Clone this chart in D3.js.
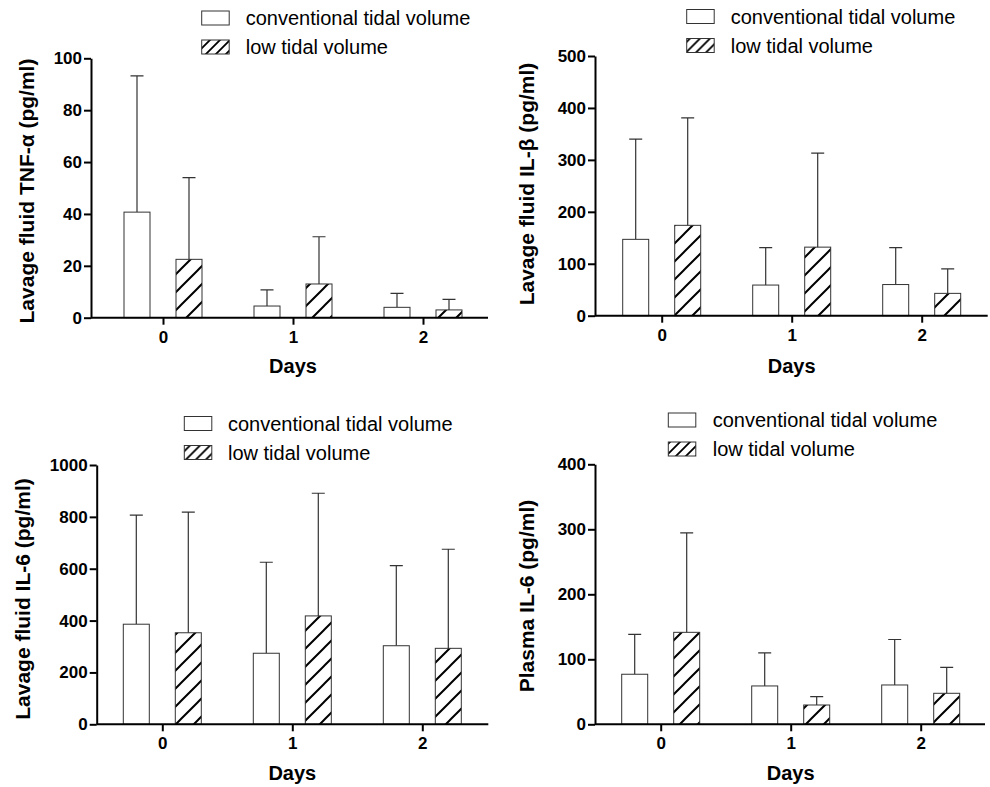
<!DOCTYPE html>
<meta charset="utf-8">
<style>

body {
  margin: 0;
  background: #fff;
}

svg {
  display: block;
  font-family: Arial, "Liberation Sans", sans-serif;
}

.axis path,
.axis line {
  stroke: #000;
  stroke-width: 2px;
}

.axis text {
  font-size: 17px;
  font-weight: bold;
  fill: #000;
}

.bar {
  stroke: #333;
  stroke-width: 1px;
}

.err {
  stroke: #333;
  stroke-width: 1.2px;
  fill: none;
}

.title {
  font-size: 20px;
  font-weight: bold;
}

.ytitle {
  font-size: 21px;
  font-weight: bold;
}

.legend text {
  font-size: 20px;
}

</style>
<body>
<script src="https://cdn.jsdelivr.net/npm/d3@7"></script>
<script>

var width = 990,
    height = 787;

var days = ["0", "1", "2"],
    series = ["conventional tidal volume", "low tidal volume"];

// means and SD (upper error bar only)
var tnfConv = [40.7, 4.5, 4.0],
    tnfConvSd = [52.5, 6.2, 5.4],
    tnfLow = [22.5, 13.0, 3.0],
    tnfLowSd = [31.5, 18.2, 4.1];

var il1bConv = [147, 59, 60],
    il1bConvSd = [193, 72, 71],
    il1bLow = [174, 132, 43],
    il1bLowSd = [207, 181, 47];

var il6Conv = [386, 274, 303],
    il6ConvSd = [421, 351, 309],
    il6Low = [353, 418, 293],
    il6LowSd = [465, 473, 382];

var plasmaConv = [77, 59, 60.5],
    plasmaConvSd = [61.5, 51, 70],
    plasmaLow = [141.5, 29.7, 47.7],
    plasmaLowSd = [153, 12.8, 40];

var yTitles = [
  "Lavage fluid TNF-\u03b1 (pg/ml)",
  "Lavage fluid IL-\u03b2 (pg/ml)",
  "Lavage fluid IL-6 (pg/ml)",
  "Plasma IL-6 (pg/ml)"
];

var yMax = [100, 500, 1000, 400],
    yStep = [20, 100, 200, 100];

var panels = [
  {conv: tnfConv, convSd: tnfConvSd, low: tnfLow, lowSd: tnfLowSd,
   left: 91, top: 58.3, bottom: 317.7, right: 488, cat0: 163, titleX: 34, titleY: 191, daysY: 373,
   legX: 201.7, legY: 11, legTextX: 245.7},
  {conv: il1bConv, convSd: il1bConvSd, low: il1bLow, lowSd: il1bLowSd,
   left: 595, top: 56, bottom: 315.7, right: 987.7, cat0: 661.7, titleX: 534, titleY: 184, daysY: 373,
   legX: 686.7, legY: 9.5, legTextX: 730.7},
  {conv: il6Conv, convSd: il6ConvSd, low: il6Low, lowSd: il6LowSd,
   left: 96.7, top: 465, bottom: 724.3, right: 488.3, cat0: 162.3, titleX: 30, titleY: 599, daysY: 780,
   legX: 184.3, legY: 416.5, legTextX: 228},
  {conv: plasmaConv, convSd: plasmaConvSd, low: plasmaLow, lowSd: plasmaLowSd,
   left: 595, top: 464.3, bottom: 724.3, right: 985, cat0: 660.7, titleX: 534, titleY: 596, daysY: 780,
   legX: 668.3, legY: 413, legTextX: 712.7}
];

var svg = d3.select("body").append("svg")
    .attr("width", width)
    .attr("height", height);

var defs = svg.append("defs");

function hatch(id, s, w) {
  defs.append("pattern")
      .attr("id", id)
      .attr("patternUnits", "userSpaceOnUse")
      .attr("width", s)
      .attr("height", s)
    .append("path")
      .attr("d", "M0," + s + "L" + s + ",0M" + (-s / 4) + "," + (s / 4) + "L" + (s / 4) + "," + (-s / 4) +
                 "M" + (s * 3 / 4) + "," + (s * 5 / 4) + "L" + (s * 5 / 4) + "," + (s * 3 / 4))
      .attr("stroke", "#000")
      .attr("stroke-width", w);
}

hatch("hatch", 18, 2);
hatch("hatch-small", 10, 1.8);

var group = d3.scaleBand()
    .domain(series)
    .range([-39, 39])
    .paddingInner(0.5);

panels.forEach(function(p, k) {
  var g = svg.append("g");

  var x = d3.scalePoint()
      .domain(days)
      .range([p.cat0, p.cat0 + 260]);

  var y = d3.scaleLinear()
      .domain([0, yMax[k]])
      .range([p.bottom, p.top]);

  var rows = [];
  days.forEach(function(d, i) {
    rows.push({day: d, s: series[0], v: p.conv[i], sd: p.convSd[i]});
    rows.push({day: d, s: series[1], v: p.low[i], sd: p.lowSd[i]});
  });

  var bar = g.selectAll(".b")
      .data(rows)
    .enter().append("g")
      .attr("class", "b");

  bar.append("path")
      .attr("class", "err")
      .attr("d", function(d) {
        var cx = x(d.day) + group(d.s) + group.bandwidth() / 2,
            yt = y(d.v + d.sd);
        return "M" + cx + "," + y(d.v) + "V" + yt + "M" + (cx - 6.5) + "," + yt + "H" + (cx + 6.5);
      });

  bar.append("rect")
      .attr("class", "bar")
      .attr("x", function(d) { return x(d.day) + group(d.s); })
      .attr("y", function(d) { return y(d.v); })
      .attr("width", group.bandwidth())
      .attr("height", function(d) { return y(0) - y(d.v); })
      .attr("fill", function(d) { return d.s === series[0] ? "#fff" : "url(#hatch)"; });

  g.append("g")
      .attr("class", "axis")
      .attr("transform", "translate(" + p.left + ",0)")
      .call(d3.axisLeft(y)
        .tickValues(d3.range(0, yMax[k] + 1, yStep[k]))
        .tickFormat(d3.format("d"))
        .tickSize(7).tickSizeOuter(0).tickPadding(2));

  var xa = g.append("g")
      .attr("class", "axis")
      .attr("transform", "translate(0," + p.bottom + ")")
      .call(d3.axisBottom(x).tickSize(7).tickPadding(6));
  xa.select(".domain").attr("d", "M" + p.left + ",0H" + p.right);

  g.append("text")
      .attr("class", "title")
      .attr("text-anchor", "middle")
      .attr("x", x("1"))
      .attr("y", p.daysY)
      .text("Days");

  g.append("text")
      .attr("class", "ytitle")
      .attr("text-anchor", "middle")
      .attr("transform", "translate(" + p.titleX + "," + p.titleY + ")rotate(-90)")
      .text(yTitles[k]);

  var leg = g.append("g")
      .attr("class", "legend")
      .selectAll("g")
      .data(series)
    .enter().append("g")
      .attr("transform", function(d, i) { return "translate(0," + (p.legY + i * 29) + ")"; });

  leg.append("rect")
      .attr("x", p.legX)
      .attr("width", 27.5)
      .attr("height", 14)
      .attr("fill", function(d, i) { return i ? "url(#hatch-small)" : "#fff"; })
      .attr("stroke", "#333")
      .attr("stroke-width", 1);

  leg.append("text")
      .attr("x", p.legTextX)
      .attr("y", 14)
      .text(function(d) { return d; });
});

</script>
